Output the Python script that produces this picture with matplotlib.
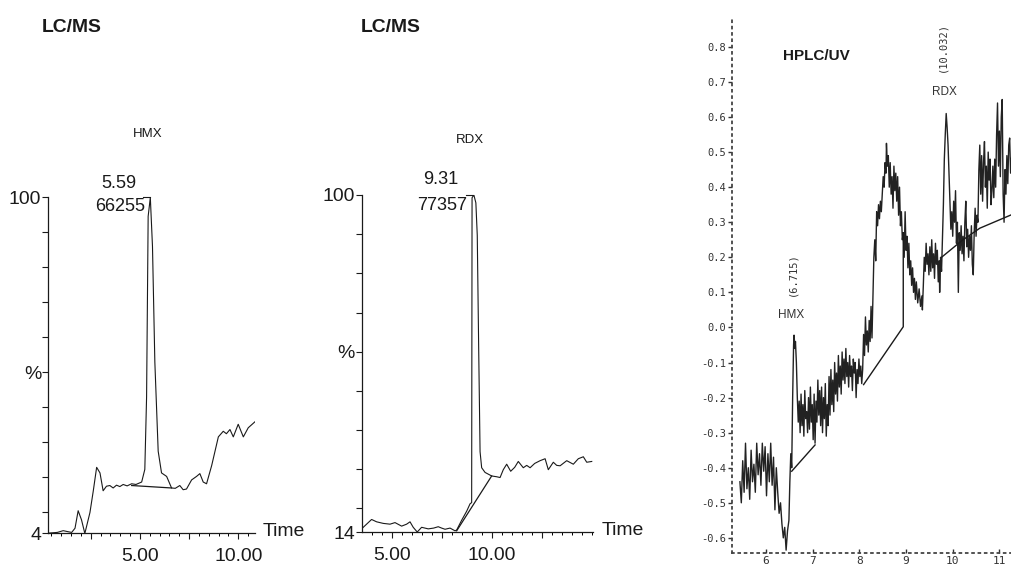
import matplotlib
matplotlib.use('Agg')
from matplotlib import pyplot as plt
from matplotlib import font_manager

# --- LC/MS, HMX trace (time in min, % of base peak) ---
hmx_time = [0.34, 0.8, 1.1, 1.35, 1.53, 1.7, 1.86, 2.03, 2.2, 2.46,
            2.63, 2.8, 2.97, 3.13, 3.3, 3.47, 3.64, 3.81, 3.98, 4.15,
            4.35, 4.58, 4.8, 5.09, 5.25, 5.34, 5.42, 5.53, 5.64, 5.76,
            5.93, 6.1, 6.36, 6.61, 6.8, 7.03, 7.2, 7.37, 7.63, 7.88,
            8.05, 8.22, 8.39, 8.65, 8.99, 9.24, 9.4, 9.58, 9.75, 10.0,
            10.26, 10.51, 10.85]
hmx_pct = [4.1, 4.3, 4.8, 4.5, 4.3, 5.5, 10.5, 7.9, 4.0, 10.0,
           16.2, 22.9, 21.3, 16.2, 17.5, 17.7, 17.0, 17.8, 17.4, 18.0,
           17.6, 18.2, 18.0, 18.7, 22.3, 43.0, 94.6, 100.0, 86.0, 53.0,
           27.5, 21.3, 20.3, 17.0, 16.9, 17.7, 16.5, 16.7, 19.3, 20.3,
           21.1, 18.7, 18.2, 23.4, 31.6, 33.2, 32.5, 33.7, 31.6, 35.2,
           31.6, 34.2, 35.9]
hmx_base_time = [4.58, 6.61]
hmx_base_pct = [17.7, 17.0]

# --- LC/MS, RDX trace ---
rdx_time = [3.52, 4.0, 4.25, 4.58, 4.92, 5.17, 5.5, 5.75, 5.92, 6.08,
            6.28, 6.5, 6.83, 7.1, 7.33, 7.5, 7.67, 7.92, 8.17, 8.25,
            8.5, 8.75, 8.92, 9.0, 9.02, 9.11, 9.21, 9.28, 9.35, 9.42,
            9.5, 9.67, 10.0, 10.25, 10.42, 10.58, 10.75, 10.95, 11.15, 11.33,
            11.58, 11.75, 11.92, 12.15, 12.42, 12.67, 12.83, 13.08, 13.25, 13.42,
            13.75, 14.08, 14.33, 14.58, 14.75, 15.0]
rdx_pct = [14.9, 17.2, 16.6, 16.2, 16.0, 16.4, 15.5, 16.0, 16.6, 15.2,
           14.0, 15.2, 14.8, 15.0, 15.35, 15.0, 14.7, 15.0, 14.3, 14.5,
           17.0, 19.3, 21.2, 21.5, 99.3, 100.0, 98.0, 89.7, 61.2, 34.5,
           30.4, 29.2, 28.3, 28.1, 27.9, 29.9, 31.3, 29.5, 30.5, 32.0,
           30.4, 31.0, 30.4, 31.5, 32.2, 32.7, 29.9, 31.8, 31.0, 30.9,
           32.2, 31.3, 32.7, 33.2, 31.8, 32.0]
rdx_base_time = [8.25, 10.0]
rdx_base_pct = [14.3, 28.3]

# --- HPLC/UV trace (time in min, absorbance) ---
uv_time = [5.44, 5.47, 5.50, 5.53, 5.56, 5.59, 5.62, 5.65, 5.68, 5.71,
           5.74, 5.77, 5.80, 5.83, 5.86, 5.89, 5.92, 5.95, 5.98, 6.01,
           6.04, 6.07, 6.10, 6.13, 6.16, 6.19, 6.22, 6.25, 6.28, 6.31,
           6.34, 6.37, 6.40, 6.43, 6.46, 6.49, 6.51, 6.53, 6.55, 6.57,
           6.59, 6.60, 6.62, 6.63, 6.65, 6.67, 6.69, 6.71, 6.73, 6.75,
           6.77, 6.79, 6.81, 6.83, 6.85, 6.87, 6.89, 6.91, 6.93, 6.95,
           6.97, 6.99, 7.01, 7.03, 7.05, 7.07, 7.09, 7.11, 7.13, 7.15,
           7.17, 7.19, 7.21, 7.23, 7.25, 7.27, 7.29, 7.31, 7.33, 7.35,
           7.37, 7.39, 7.41, 7.43, 7.45, 7.47, 7.49, 7.51, 7.53, 7.55,
           7.57, 7.59, 7.61, 7.63, 7.65, 7.67, 7.69, 7.71, 7.73, 7.75,
           7.77, 7.79, 7.81, 7.83, 7.85, 7.87, 7.89, 7.91, 7.93, 7.95,
           7.97, 7.99, 8.01, 8.03, 8.05, 8.07, 8.09, 8.11, 8.13, 8.15,
           8.17, 8.19, 8.21, 8.23, 8.25, 8.27, 8.29, 8.31, 8.33, 8.35,
           8.37, 8.39, 8.41, 8.43, 8.45, 8.47, 8.49, 8.51, 8.53, 8.55,
           8.57, 8.58, 8.60, 8.62, 8.64, 8.66, 8.68, 8.70, 8.72, 8.74,
           8.76, 8.78, 8.80, 8.82, 8.84, 8.86, 8.88, 8.90, 8.92, 8.94,
           8.96, 8.98, 9.00, 9.02, 9.04, 9.06, 9.08, 9.10, 9.12, 9.14,
           9.16, 9.18, 9.20, 9.22, 9.25, 9.28, 9.31, 9.34, 9.35, 9.37,
           9.39, 9.41, 9.43, 9.45, 9.47, 9.49, 9.51, 9.53, 9.55, 9.57,
           9.59, 9.61, 9.63, 9.65, 9.67, 9.69, 9.71, 9.72, 9.74, 9.76,
           9.78, 9.80, 9.82, 9.84, 9.86, 9.88, 9.90, 9.92, 9.94, 9.96,
           9.98, 10.00, 10.02, 10.04, 10.06, 10.08, 10.10, 10.12, 10.14, 10.16,
           10.18, 10.20, 10.22, 10.24, 10.26, 10.28, 10.30, 10.32, 10.34, 10.36,
           10.38, 10.40, 10.42, 10.44, 10.46, 10.48, 10.50, 10.52, 10.54, 10.56,
           10.58, 10.60, 10.62, 10.64, 10.66, 10.68, 10.70, 10.72, 10.74, 10.76,
           10.78, 10.80, 10.82, 10.84, 10.86, 10.88, 10.90, 10.92, 10.94, 10.96,
           10.98, 11.00, 11.02, 11.04, 11.06, 11.08, 11.10, 11.12, 11.14, 11.16,
           11.18, 11.20, 11.22, 11.24, 11.27]
uv_abs = [-0.44, -0.50, -0.38, -0.47, -0.33, -0.46, -0.40, -0.49, -0.35, -0.44,
          -0.39, -0.47, -0.33, -0.42, -0.36, -0.45, -0.33, -0.41, -0.34, -0.48,
          -0.36, -0.44, -0.33, -0.45, -0.37, -0.52, -0.40, -0.47, -0.53, -0.50,
          -0.56, -0.60, -0.57, -0.635, -0.58, -0.55, -0.44, -0.36, -0.40, -0.20,
          -0.05, -0.022, -0.06, -0.04, -0.10, -0.20, -0.27, -0.21, -0.30, -0.19,
          -0.28, -0.22, -0.31, -0.18, -0.26, -0.24, -0.30, -0.20, -0.29, -0.17,
          -0.27, -0.22, -0.32, -0.19, -0.33, -0.21, -0.27, -0.15, -0.25, -0.18,
          -0.28, -0.17, -0.30, -0.20, -0.26, -0.16, -0.31, -0.22, -0.28, -0.14,
          -0.25, -0.12, -0.22, -0.15, -0.24, -0.10, -0.19, -0.13, -0.21, -0.08,
          -0.17, -0.11, -0.19, -0.07, -0.15, -0.09, -0.16, -0.06, -0.14, -0.10,
          -0.17, -0.08, -0.14, -0.11, -0.18, -0.09, -0.13, -0.10, -0.20, -0.12,
          -0.16, -0.09, -0.14, -0.11, -0.16, -0.12, -0.02, -0.08, 0.03, -0.05,
          -0.01, -0.07, 0.02, -0.04, 0.06, -0.03, 0.08, 0.20, 0.25, 0.19,
          0.33, 0.29, 0.35, 0.31, 0.36, 0.33, 0.38, 0.43, 0.40, 0.47,
          0.44, 0.525, 0.46, 0.49, 0.40, 0.47, 0.38, 0.43, 0.34, 0.46,
          0.39, 0.44, 0.36, 0.43, 0.32, 0.40, 0.29, 0.33, 0.25, 0.27,
          0.20, 0.33, 0.22, 0.26, 0.17, 0.24, 0.15, 0.19, 0.12, 0.17,
          0.10, 0.14, 0.08, 0.13, 0.07, 0.11, 0.06, 0.09, 0.05, 0.12,
          0.20, 0.16, 0.24, 0.18, 0.21, 0.15, 0.23, 0.16, 0.25, 0.17,
          0.21, 0.14, 0.24, 0.18, 0.22, 0.13, 0.19, 0.10, 0.20, 0.16,
          0.25, 0.35, 0.48, 0.55, 0.61, 0.57, 0.52, 0.44, 0.36, 0.28,
          0.33, 0.26, 0.36, 0.30, 0.39, 0.24, 0.30, 0.10, 0.27, 0.22,
          0.29, 0.21, 0.26, 0.19, 0.30, 0.36, 0.23, 0.28, 0.20, 0.26,
          0.22, 0.29, 0.18, 0.15, 0.27, 0.34, 0.26, 0.32, 0.30, 0.45,
          0.52, 0.38, 0.49, 0.36, 0.47, 0.53, 0.40, 0.46, 0.34, 0.50,
          0.42, 0.48, 0.35, 0.39, 0.46, 0.37, 0.48, 0.40, 0.55, 0.64,
          0.46, 0.56, 0.43, 0.60, 0.65, 0.38, 0.30, 0.45, 0.38, 0.49,
          0.41, 0.52, 0.54, 0.44, 0.50]
# integration baselines drawn under the UV peaks
uv_base1_time = [6.55, 7.05]
uv_base1_abs = [-0.41, -0.335]
uv_base2_time = [8.09, 8.94, 8.94]
uv_base2_abs = [-0.163, 0.002, 0.27]
uv_base3_time = [9.76, 10.2, 10.58, 11.27]
uv_base3_abs = [0.200, 0.248, 0.283, 0.322]
uv_yticks = [-0.6, -0.5, -0.4, -0.3, -0.2, -0.1, 0.0, 0.1, 0.2, 0.3, 0.4, 0.5, 0.6, 0.7, 0.8]
uv_xticks = [6, 7, 8, 9, 10, 11]

installed = {f.name for f in font_manager.fontManager.ttflist}
if 'Liberation Sans Narrow' in installed:
    NARROW, K = 'Liberation Sans Narrow', 1.0
else:
    NARROW, K = 'Liberation Sans', 0.87
MONO = 'DejaVu Sans Mono'
plt.rcParams['font.family'] = NARROW
plt.rcParams['axes.unicode_minus'] = False
INK = '#1a1a1a'

fig = plt.figure(figsize=(10.12, 5.65), dpi=100)


def lcms_panel(rect, t, y, bt, by, xlim, ylow, pct_tick, peak_t, rt, area, name, name_y):
    ax = fig.add_axes(rect)
    ax.plot(t, y, color=INK, lw=0.8)
    ax.plot(bt, by, color=INK, lw=0.9)
    ax.plot([peak_t - 0.35, peak_t], [100, 100], color=INK, lw=0.8, clip_on=False)
    for s in ('top', 'right'):
        ax.spines[s].set_visible(False)
    for s in ('left', 'bottom'):
        ax.spines[s].set_linewidth(0.9)
        ax.spines[s].set_color(INK)
    yt = [ylow] + list(range(ylow - ylow % 10 + 10, 101, 10))
    ylab = [str(ylow) if v == ylow else ('%' if v == pct_tick else ('100' if v == 100 else '')) for v in yt]
    ax.set_yticks(yt, labels=ylab)
    ax.tick_params(axis='y', direction='out', length=4, width=0.8, pad=1,
                   labelsize=16 * K, colors=INK)
    ax.set_xticks([2.5, 5, 7.5, 10, 12.5], labels=['', '5.00', '', '10.00', ''])
    ax.set_xticks([v / 2 for v in range(1, 31)], minor=True)
    ax.tick_params(axis='x', which='major', direction='out', length=4.5, width=0.8,
                   pad=6, labelsize=16 * K, colors=INK)
    ax.tick_params(axis='x', which='minor', direction='out', length=2.5, width=0.7)
    # limits after the ticks, so the tick lists do not widen the view
    ax.set_xlim(*xlim)
    ax.set_ylim(ylow, 100)
    ax.text(xlim[1] + 0.4, ylow + 0.5, 'Time', fontsize=16 * K, va='center', ha='left', color=INK)
    ax.text(peak_t - 1.6, 104, rt, fontsize=15 * K, ha='center', va='center', color=INK)
    ax.text(peak_t - 1.55, 97.4, area, fontsize=15 * K, ha='center', va='center', color=INK)
    ax.text(peak_t - 0.15, name_y, name, fontsize=11 * K,
            ha='center', va='center', color=INK)
    return ax


ax1 = lcms_panel([0.0477, 0.0558, 0.2042, 0.5947], hmx_time, hmx_pct, hmx_base_time,
                 hmx_base_pct, (0.34, 10.85), 4, 50, 5.53, '5.59', '66255', 'HMX', 118)
ax2 = lcms_panel([0.3577, 0.0584, 0.2286, 0.5965], rdx_time, rdx_pct, rdx_base_time,
                 rdx_base_pct, (3.52, 15.08), 14, 60, 9.08, '9.31', '77357', 'RDX', 114)
fig.text(42 / 1012, 1 - 27 / 565, 'LC/MS', fontsize=16 * K, fontweight='bold',
         ha='left', va='center', color=INK)
fig.text(361 / 1012, 1 - 27 / 565, 'LC/MS', fontsize=16 * K, fontweight='bold',
         ha='left', va='center', color=INK)

# --- HPLC/UV panel ---
ax3 = fig.add_axes([0.7233, 0.0207, 0.2767, 0.9497])
ax3.plot(uv_time, uv_abs, color='#222222', lw=1.0)
for bt, ba in ((uv_base1_time, uv_base1_abs), (uv_base2_time, uv_base2_abs),
               (uv_base3_time, uv_base3_abs)):
    ax3.plot(bt, ba, color=INK, lw=1.0)
for s in ('top', 'right'):
    ax3.spines[s].set_visible(False)
for s in ('left', 'bottom'):
    ax3.spines[s].set_linestyle((0, (1, 2.5)))
    ax3.spines[s].set_linewidth(1.3)
    ax3.spines[s].set_color('#444444')
ax3.set_yticks(uv_yticks, labels=['%.1f' % v for v in uv_yticks])
ax3.set_xticks(uv_xticks, labels=[str(v) for v in uv_xticks])
ax3.set_xlim(5.27, 11.27)
ax3.set_ylim(-0.644, 0.886)
ax3.tick_params(axis='y', direction='out', length=3, width=1, pad=1, labelsize=7.5,
                colors='#333333')
ax3.tick_params(axis='x', direction='in', length=3, width=1, pad=2, labelsize=8,
                colors='#333333')
for lbl in ax3.get_xticklabels() + ax3.get_yticklabels():
    lbl.set_fontfamily(MONO)
ax3.text(7.07, 0.774, 'HPLC/UV', family='Liberation Sans', fontweight='bold',
         fontsize=11, ha='center', va='center', color=INK)
ax3.text(6.57, 0.151, '(6.715)', family=MONO, fontsize=7.5, rotation=90,
         ha='center', va='center', color='#333333')
ax3.text(6.54, 0.036, 'HMX', family='Liberation Sans', fontsize=8.5,
         ha='center', va='center', color='#333333')
ax3.text(9.78, 0.80, '(10.032)', family=MONO, fontsize=7.5, rotation=90,
         ha='center', va='center', color='#333333')
ax3.text(9.83, 0.671, 'RDX', family='Liberation Sans', fontsize=8.5,
         ha='center', va='center', color='#333333')

fig.savefig('out.png', dpi=100)
